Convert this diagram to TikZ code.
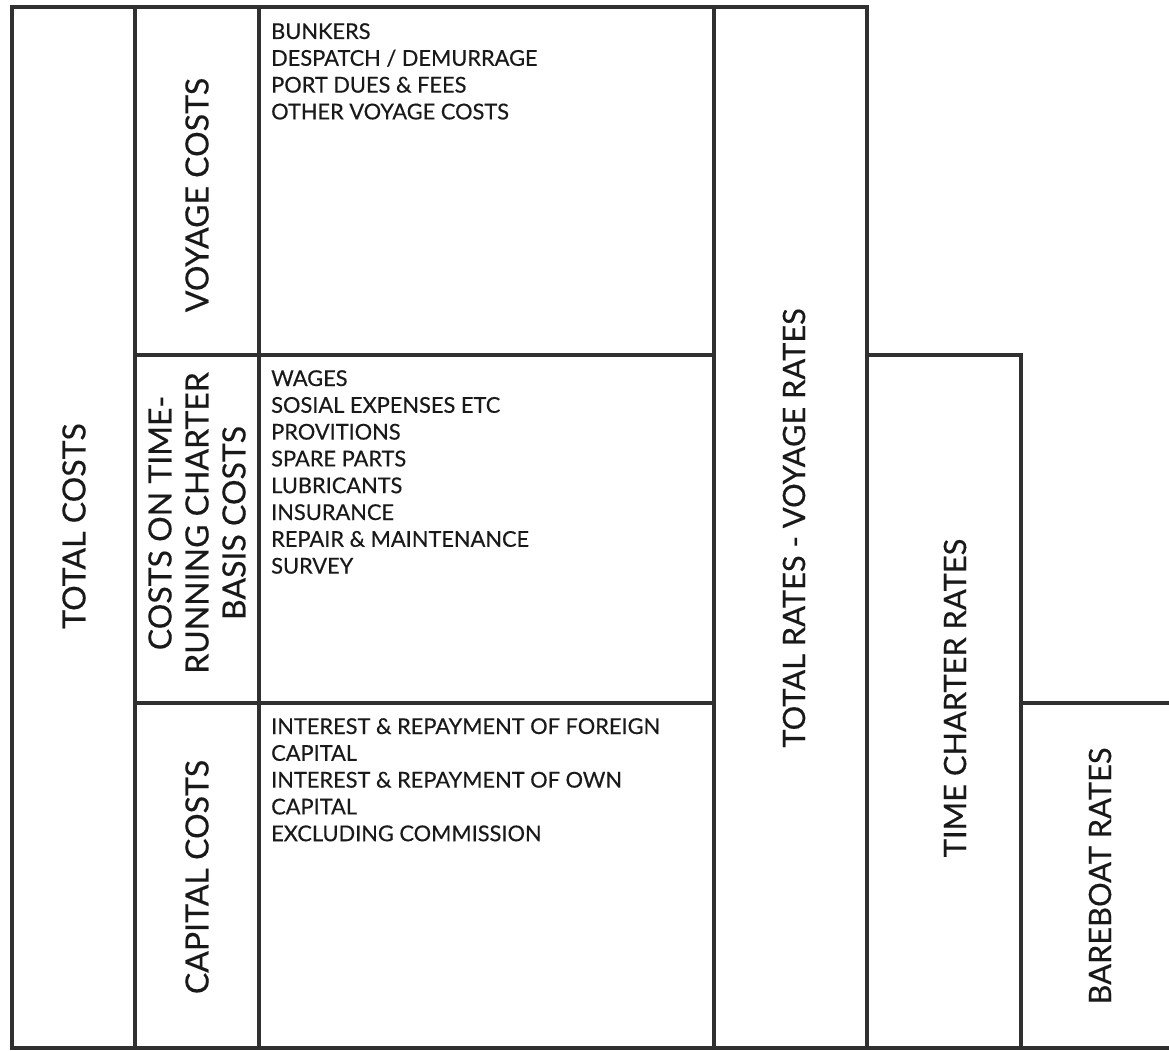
\documentclass[tikz,border=0pt]{standalone}
\usepackage{fontspec}
\setmainfont{Lato}[FakeBold=0.4]
\definecolor{linecol}{HTML}{303030}
\tikzset{
  rule/.style={draw=linecol, line width=3.2pt, line cap=rect},
  biglabel/.style={rotate=90, inner sep=0pt, font=\fontsize{32}{37}\selectfont, align=center, text=black!90},
  ratelabel/.style={biglabel, font=\fontsize{30.8}{37}\selectfont},
  listtext/.style={anchor=north west, inner sep=0pt, align=left, text=black!90, font=\fontsize{21.8}{26.8}\selectfont}
}
\begin{document}
\begin{tikzpicture}[x=1pt,y=-1pt]
\useasboundingbox (0,0) rectangle (1169,1050);
% coordinates
\coordinate (tl) at (12,7);
\coordinate (bl) at (12,1048);
\coordinate (br) at (1169,1048);
\coordinate (c1t) at (135,7);   \coordinate (c1b) at (135,1048);
\coordinate (c2t) at (259,7);   \coordinate (c2b) at (259,1048);
\coordinate (c3t) at (714,7);   \coordinate (c3b) at (714,1048);
\coordinate (c4t) at (867,7);   \coordinate (c4b) at (867,1048);
\coordinate (c5t) at (1021,355); \coordinate (c5b) at (1021,1048);
\coordinate (h1l) at (135,355); \coordinate (h1r) at (714,355);
\coordinate (h2l) at (135,703); \coordinate (h2r) at (714,703);
\coordinate (h3l) at (867,355);
\coordinate (h4r) at (1169,703);
% frame
\draw[rule] (bl) -- (tl) -- (c4t);
\draw[rule] (bl) -- (br);
\draw[rule] (c1t) -- (c1b);
\draw[rule] (c2t) -- (c2b);
\draw[rule] (c3t) -- (c3b);
\draw[rule] (c4t) -- (c4b);
\draw[rule] (h1l) -- (h1r);
\draw[rule] (h2l) -- (h2r);
\draw[rule] (h3l) -- (c5t) -- (c5b);
\draw[rule] (c5b |- h4r) -- (h4r);
% big labels
\node[biglabel] (total) at (74,526) {TOTAL COSTS};
\node[biglabel] (voyage) at (197,195) {VOYAGE COSTS};
\node[biglabel] (running) at (197,523) {COSTS ON TIME-\\RUNNING CHARTER\\BASIS COSTS};
\node[biglabel] (capital) at (197,877) {CAPITAL COSTS};
\node[ratelabel] (rates) at (794,528) {TOTAL RATES - VOYAGE RATES};
\node[ratelabel] (timech) at (955,698) {TIME CHARTER RATES};
\node[ratelabel] (bareboat) at (1100,876) {BAREBOAT RATES};
% lists
\node[listtext] (vlist) at (271,23) {BUNKERS\\DESPATCH / DEMURRAGE\\PORT DUES \& FEES\\OTHER VOYAGE COSTS};
\node[listtext] (rlist) at (271,370) {WAGES\\SOSIAL EXPENSES ETC\\PROVITIONS\\SPARE PARTS\\LUBRICANTS\\INSURANCE\\REPAIR \& MAINTENANCE\\SURVEY};
\node[listtext] (clist) at (271,718) {INTEREST \& REPAYMENT OF FOREIGN\\CAPITAL\\INTEREST \& REPAYMENT OF OWN\\CAPITAL\\EXCLUDING COMMISSION};
\end{tikzpicture}
\end{document}
